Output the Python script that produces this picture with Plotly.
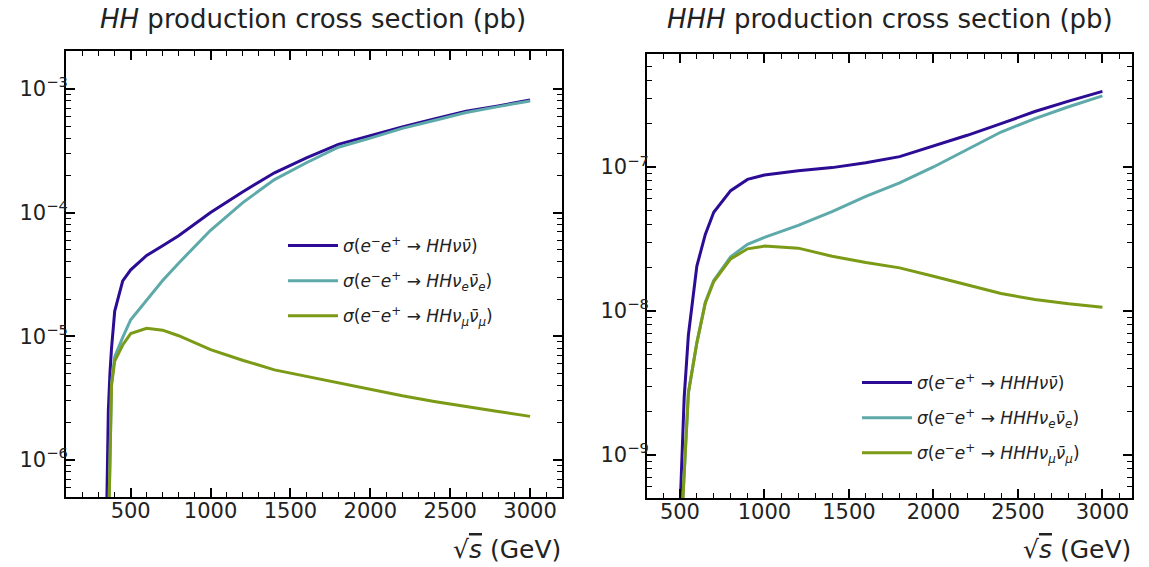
import plotly.graph_objects as go

# ---------------- data: HH (left panel) ----------------
sqrts_hh = [350, 360, 370, 380, 400, 450, 500, 600, 700, 800, 1000, 1200, 1400,
            1600, 1800, 2000, 2200, 2400, 2600, 2800, 3000]
hh_total = [4e-7, 2.5e-6, 5e-6, 8e-6, 1.6e-5, 2.8e-5, 3.45e-5, 4.5e-5, 5.4e-5, 6.5e-5,
            1.0e-4, 1.47e-4, 2.1e-4, 2.77e-4, 3.56e-4, 4.2e-4, 4.93e-4, 5.73e-4,
            6.6e-4, 7.3e-4, 8.15e-4]
hh_nue = [5e-8, 2.8e-7, 1.6e-6, 4.2e-6, 6.8e-6, 9.8e-6, 1.36e-5, 1.97e-5, 2.82e-5, 3.9e-5,
          7.2e-5, 1.2e-4, 1.85e-4, 2.53e-4, 3.38e-4, 4.0e-4, 4.8e-4, 5.56e-4,
          6.45e-4, 7.2e-4, 8.0e-4]
hh_numu = [5e-8, 2.5e-7, 1.5e-6, 4.0e-6, 6.3e-6, 8.5e-6, 1.05e-5, 1.16e-5, 1.12e-5, 1.01e-5,
           7.8e-6, 6.4e-6, 5.35e-6, 4.73e-6, 4.18e-6, 3.7e-6, 3.3e-6, 2.97e-6,
           2.69e-6, 2.46e-6, 2.25e-6]

# ---------------- data: HHH (right panel) ----------------
sqrts_hhh = [500, 525, 550, 600, 650, 700, 800, 900, 1000, 1200, 1400, 1600, 1800,
             2000, 2200, 2400, 2600, 2800, 3000]
hhh_total = [4e-10, 2.5e-9, 6.8e-9, 2.05e-8, 3.4e-8, 4.85e-8, 6.85e-8, 8.2e-8, 8.8e-8,
             9.4e-8, 9.9e-8, 1.07e-7, 1.18e-7, 1.4e-7, 1.66e-7, 2.0e-7, 2.43e-7,
             2.87e-7, 3.35e-7]
hhh_nue = [2e-10, 8e-10, 2.7e-9, 6e-9, 1.15e-8, 1.63e-8, 2.38e-8, 2.9e-8, 3.24e-8,
           3.93e-8, 4.89e-8, 6.24e-8, 7.76e-8, 1.0e-7, 1.32e-7, 1.75e-7, 2.17e-7,
           2.62e-7, 3.12e-7]
hhh_numu = [2e-10, 8e-10, 2.7e-9, 6e-9, 1.13e-8, 1.6e-8, 2.3e-8, 2.7e-8, 2.82e-8,
            2.73e-8, 2.4e-8, 2.17e-8, 1.99e-8, 1.74e-8, 1.51e-8, 1.32e-8, 1.2e-8,
            1.12e-8, 1.06e-8]

# ---------------- tick labels ----------------
x_tickvals = [500, 1000, 1500, 2000, 2500, 3000]
x_ticktext = ["500", "1000", "1500", "2000", "2500", "3000"]
y_tickvals_hh = [1e-6, 1e-5, 1e-4, 1e-3]
y_ticktext_hh = ["10<sup>−6</sup>", "10<sup>−5</sup>", "10<sup>−4</sup>", "10<sup>−3</sup>"]
y_tickvals_hhh = [1e-9, 1e-8, 1e-7]
y_ticktext_hhh = ["10<sup>−9</sup>", "10<sup>−8</sup>", "10<sup>−7</sup>"]

names_hh = ["<i>σ</i>(<i>e</i><sup>−</sup><i>e</i><sup>+</sup> → <i>HHνν̄</i>)",
            "<i>σ</i>(<i>e</i><sup>−</sup><i>e</i><sup>+</sup> → <i>HHν<sub>e</sub>ν̄<sub>e</sub></i>)",
            "<i>σ</i>(<i>e</i><sup>−</sup><i>e</i><sup>+</sup> → <i>HHν<sub>μ</sub>ν̄<sub>μ</sub></i>)"]
names_hhh = ["<i>σ</i>(<i>e</i><sup>−</sup><i>e</i><sup>+</sup> → <i>HHHνν̄</i>)",
             "<i>σ</i>(<i>e</i><sup>−</sup><i>e</i><sup>+</sup> → <i>HHHν<sub>e</sub>ν̄<sub>e</sub></i>)",
             "<i>σ</i>(<i>e</i><sup>−</sup><i>e</i><sup>+</sup> → <i>HHHν<sub>μ</sub>ν̄<sub>μ</sub></i>)"]

colors = ["#2c0c94", "#5ea9a9", "#7b9a16"]
FONT = "DejaVu Sans"

W, H = 1149, 567
OFF = 0  # body margin removed by post_script below

# minor tick positions on log axes (2..9 per decade)
minor_hh = [k * 10.0 ** e for e in range(-7, -2) for k in range(2, 10)]
minor_hhh = [k * 10.0 ** e for e in range(-10, -6) for k in range(2, 10)]

fig = go.Figure()

for i, (y, nm) in enumerate(zip([hh_total, hh_nue, hh_numu], names_hh)):
    fig.add_trace(go.Scatter(x=sqrts_hh, y=y, mode="lines", name=nm,
                             line=dict(color=colors[i], width=3),
                             xaxis="x", yaxis="y", legend="legend",
                             legendgroup="a%d" % i))
for i, (y, nm) in enumerate(zip([hhh_total, hhh_nue, hhh_numu], names_hhh)):
    fig.add_trace(go.Scatter(x=sqrts_hhh, y=y, mode="lines", name=nm,
                             line=dict(color=colors[i], width=3),
                             xaxis="x2", yaxis="y2", legend="legend2",
                             legendgroup="b%d" % i))


def px_x(p):
    return (p - OFF) / W


def px_y(p):
    return 1 - (p - OFF) / H


axis_common = dict(showline=True, linecolor="black", linewidth=2, mirror="allticks",
                   ticks="inside", ticklen=9, tickwidth=1.6, tickcolor="black",
                   showgrid=False, zeroline=False,
                   tickfont=dict(family=FONT, size=21, color="#222"))
minor_x = dict(ticks="inside", ticklen=5, tickwidth=1.2, dtick=100, tick0=0,
               tickcolor="black", showgrid=False)

fig.update_layout(
    width=W, height=H,
    margin=dict(l=0, r=0, t=0, b=0),
    paper_bgcolor="white", plot_bgcolor="white",
    font=dict(family=FONT, color="#222"),
    xaxis=dict(domain=[px_x(66), px_x(562)], range=[95, 3200], anchor="y",
               tickmode="array", tickvals=x_tickvals, ticktext=x_ticktext,
               minor=minor_x, ticklabelstandoff=-6, **axis_common),
    yaxis=dict(domain=[px_y(497), px_y(51)], type="log", range=[-6.3, -2.693],
               anchor="x", tickmode="array", tickvals=y_tickvals_hh,
               ticktext=y_ticktext_hh, ticklabelstandoff=-8,
               minor=dict(ticks="inside", ticklen=5, tickwidth=1.2, tickmode="array",
                          tickvals=minor_hh, tickcolor="black", showgrid=False),
               **axis_common),
    xaxis2=dict(domain=[px_x(647), px_x(1132)], range=[305, 3175], anchor="y2",
                tickmode="array", tickvals=x_tickvals, ticktext=x_ticktext,
                minor=minor_x, ticklabelstandoff=-6, **axis_common),
    yaxis2=dict(domain=[px_y(498), px_y(54)], type="log", range=[-9.3, -6.215],
                anchor="x2", tickmode="array", tickvals=y_tickvals_hhh,
                ticktext=y_ticktext_hhh, ticklabelstandoff=-8,
                minor=dict(ticks="inside", ticklen=5, tickwidth=1.2, tickmode="array",
                           tickvals=minor_hhh, tickcolor="black", showgrid=False),
                **axis_common),
    legend=dict(x=px_x(283), y=px_y(228), xanchor="left", yanchor="top",
                bgcolor="rgba(0,0,0,0)", font=dict(family=FONT, size=17, color="#222"),
                tracegroupgap=10, itemwidth=50),
    legend2=dict(x=px_x(857), y=px_y(365), xanchor="left", yanchor="top",
                 bgcolor="rgba(0,0,0,0)", font=dict(family=FONT, size=17, color="#222"),
                 tracegroupgap=10, itemwidth=50),
)

annotations = [
    dict(text="<i>HH</i> production cross section (pb)", x=px_x(313), y=px_y(19),
         xref="paper", yref="paper", xanchor="center", yanchor="middle",
         showarrow=False, font=dict(family=FONT, size=26, color="#222")),
    dict(text="<i>HHH</i> production cross section (pb)", x=px_x(890), y=px_y(19),
         xref="paper", yref="paper", xanchor="center", yanchor="middle",
         showarrow=False, font=dict(family=FONT, size=26, color="#222")),
    dict(text="√<span style='text-decoration:overline'><i>s</i></span> (GeV)",
         x=px_x(563), y=px_y(549), xref="paper", yref="paper", xanchor="right",
         yanchor="middle", showarrow=False, font=dict(family=FONT, size=25, color="#222")),
    dict(text="√<span style='text-decoration:overline'><i>s</i></span> (GeV)",
         x=px_x(1133), y=px_y(549), xref="paper", yref="paper", xanchor="right",
         yanchor="middle", showarrow=False, font=dict(family=FONT, size=25, color="#222")),
]
fig.update_layout(annotations=annotations)

fig.write_html("out.html", config={"displayModeBar": False},
               post_script="document.body.style.margin='0';")
